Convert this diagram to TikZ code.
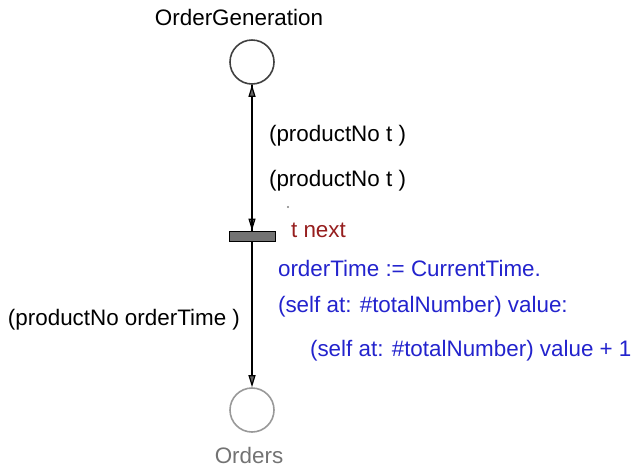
\documentclass[tikz,border=0pt]{standalone}
\usepackage{fontspec}
\setmainfont{Liberation Sans}
\usetikzlibrary{arrows.meta}
\definecolor{cblue}{RGB}{35,35,205}
\definecolor{cred}{RGB}{150,30,30}
\colorlet{gry}{black!55}

\begin{document}
\begin{tikzpicture}[
            x=0.5pt,y=-0.5pt,
            every node/.style={font=\fontsize{11.2}{13}\selectfont},
            place/.style={circle,draw=black!75,thick,minimum size=22pt,inner sep=0pt},
            trans/.style={rectangle,draw=black,fill=black!55,minimum width=23pt,minimum height=5pt,inner sep=0pt},
            arc/.style={semithick,-{Triangle[length=6pt,width=3.5pt,fill=black!60]}}
        ]
            \useasboundingbox (0,0) rectangle (636,468);

            \node [place] (gen) at (252,62) {};
            \node (genlbl) at (239,17) {OrderGeneration};
            \node [trans] (next) at (252,236) {};
            \node [place,draw=black!40] (ord) at (252,410) {};
            \node [text=gry] (ordlbl) at (249,455) {Orders};

            % arcs
            \draw [arc] (gen.south) -- (next.north);
            \draw [arc] (next.north) -- (gen.south);
            \draw [arc] (next.south) -- (ord.north);

            \node [anchor=west] (in1) at (262,136) {(productNo t )};
            \node [anchor=west] (in2) at (262,181) {(productNo t )};
            \node [anchor=east] (out) at (247,320) {(productNo orderTime )};
            \fill [black!50] (288,207) circle (0.6pt);

            \node [anchor=west,text=cred] (tlbl) at (284,230) {t next};
            \node [anchor=west,text=cblue] (code1) at (271,268) {orderTime := CurrentTime.};
            \node [anchor=west,text=cblue] (code2) at (271,307) {(self at: \#totalNumber) value:};
            \node [anchor=west,text=cblue] (code3) at (303,351) {(self at: \#totalNumber) value + 1};
        \end{tikzpicture}
\end{document}
